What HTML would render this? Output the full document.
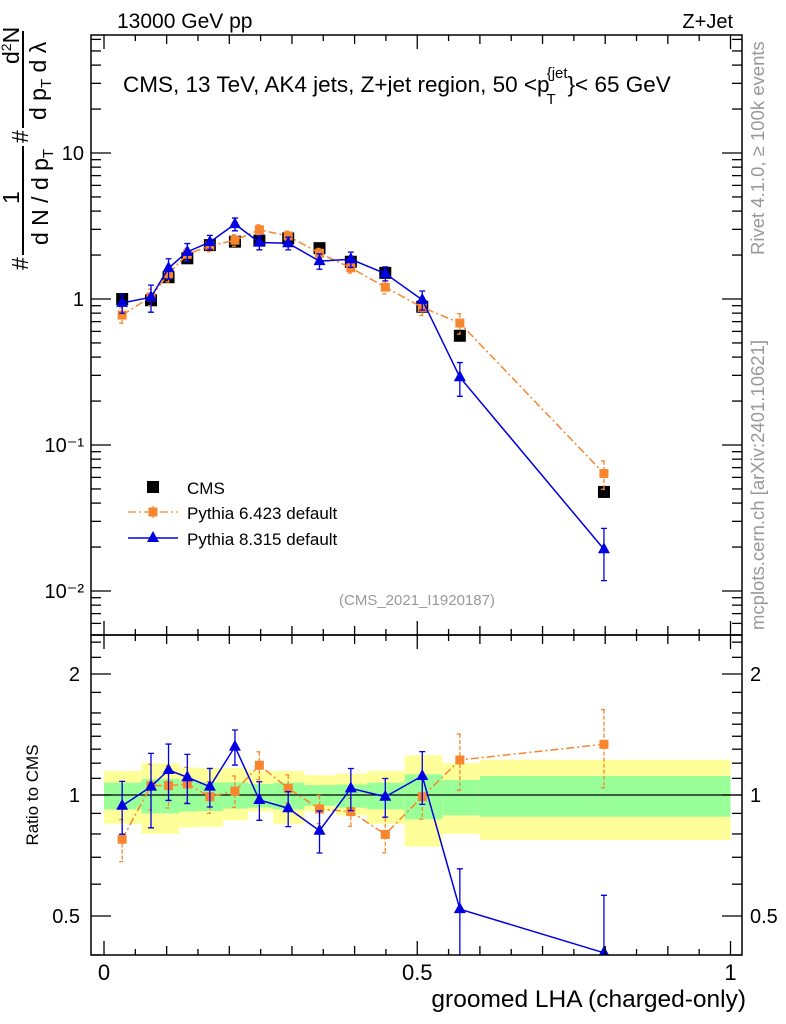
<!DOCTYPE html>
<html><head><meta charset="utf-8"><style>
body{margin:0;background:#fff}
svg{display:block;font-family:"Liberation Sans",sans-serif}
</style></head><body>
<svg id="chart" width="786" height="1024" viewBox="0 0 786 1024" xmlns="http://www.w3.org/2000/svg">
<defs>
<clipPath id="clipMain"><rect x="91" y="35" width="651" height="600"/></clipPath>
<clipPath id="clipRatio"><rect x="91" y="635" width="651" height="320"/></clipPath>
</defs>
<text x="117" y="28" font-size="21">13000 GeV pp</text>
<text x="733" y="28" font-size="20" text-anchor="end">Z+Jet</text>
<text x="123" y="92" font-size="22.5">CMS, 13 TeV, AK4 jets, Z+jet region, 50 &lt;p<tspan font-size="15" dx="-3" dy="12">T</tspan><tspan font-size="15" dx="-9" dy="-26">{jet</tspan><tspan font-size="22.5" dy="14">}&lt; 65 GeV</tspan></text>
<text x="417" y="605" font-size="15" fill="#999" text-anchor="middle">(CMS_2021_I1920187)</text>
<g transform="rotate(-90)" font-size="23">
<text x="-270" y="28">#</text>
<text x="-204" y="19">1</text>
<line x1="-255" y1="23" x2="-146" y2="23" stroke="#000" stroke-width="2"/>
<text x="-245" y="48">d N / d p<tspan font-size="15" dy="5">T</tspan></text>
<text x="-143" y="28">#</text>
<text x="-64" y="19">d<tspan font-size="14" dy="-8">2</tspan><tspan dy="8">N</tspan></text>
<line x1="-128" y1="23" x2="-31" y2="23" stroke="#000" stroke-width="2"/>
<text x="-120" y="46">d p<tspan font-size="15" dy="5">T</tspan><tspan dy="-5"> d λ</tspan></text>
</g>
<text transform="translate(764,255) rotate(-90)" font-size="18.5" fill="#999">Rivet 4.1.0, ≥ 100k events</text>
<text transform="translate(764,630) rotate(-90)" font-size="18.5" fill="#999">mcplots.cern.ch [arXiv:2401.10621]</text>
<text transform="translate(38,795) rotate(-90)" font-size="17" text-anchor="middle">Ratio to CMS</text>
<text x="746" y="1007" font-size="24.5" text-anchor="end">groomed LHA (charged-only)</text>
<g id="bands" clip-path="url(#clipRatio)"></g>
<g id="marks"></g>
<g id="axes"></g>
<g>
<rect x="147" y="481" width="12" height="12" fill="#000"/>
<text x="187" y="494" font-size="17">CMS</text>
<line x1="128" y1="512" x2="178" y2="512" stroke="#f7862f" stroke-width="1.3" stroke-dasharray="8,3,2,3"/>
<line x1="153" y1="506" x2="153" y2="518" stroke="#f7862f" stroke-width="1.3"/>
<rect x="148.5" y="507.5" width="9" height="9" fill="#f7862f"/>
<text x="187" y="519" font-size="17">Pythia 6.423 default</text>
<line x1="128" y1="538" x2="178" y2="538" stroke="#0000e0" stroke-width="1.5"/>
<path d="M153,531 L159,542 L147,542 Z" fill="#0000e0"/>
<text x="187" y="545" font-size="17">Pythia 8.315 default</text>
</g>
</svg>
<script>
const xPoints = [0.029,0.075,0.103,0.133,0.169,0.209,0.248,0.294,0.344,0.394,0.449,0.508,0.568,0.798];
const binEdges = [0,0.06,0.09,0.12,0.15,0.19,0.23,0.27,0.32,0.37,0.42,0.48,0.54,0.6,1.0];
const cmsValues = [1.0,0.98,1.41,1.90,2.34,2.47,2.51,2.60,2.23,1.80,1.51,0.885,0.56,0.0477];
const py6Ratio = [0.776,1.055,1.055,1.065,0.99,1.023,1.186,1.039,0.923,0.909,0.798,0.99,1.222,1.337];
const py6RelErr = [0.12,0.13,0.12,0.1,0.09,0.09,0.08,0.08,0.08,0.08,0.1,0.12,0.16,0.22];
const py8Ratio = [0.94,1.049,1.154,1.107,1.049,1.319,0.972,0.927,0.815,1.039,0.99,1.115,0.52,0.405];
const py8RelErr = [0.15,0.21,0.16,0.14,0.11,0.1,0.11,0.1,0.12,0.12,0.11,0.15,0.26,0.39];
const yellowHi = [1.147,1.199,1.199,1.17,1.167,1.167,1.147,1.147,1.12,1.13,1.147,1.255,1.2,1.224];
const yellowLo = [0.848,0.80,0.80,0.83,0.833,0.865,0.91,0.848,0.91,0.89,0.848,0.744,0.80,0.773];
const greenHi = [1.073,1.096,1.096,1.085,1.075,1.075,1.065,1.073,1.058,1.062,1.073,1.126,1.09,1.115];
const greenLo = [0.921,0.90,0.90,0.91,0.912,0.925,0.93,0.921,0.94,0.93,0.921,0.87,0.89,0.883];
const mainTickLabels = ["10⁻²","10⁻¹","1","10"];
const mainTickValues = [0.01,0.1,1,10];
const ratioTickValues = [0.5,1,2];
const ratioTickLabels = ["0.5","1","2"];
const xTickValues = [0,0.5,1];
const xTickLabels = ["0","0.5","1"];

const NS="http://www.w3.org/2000/svg";
const X=v=>104+626.5*v;
const YM=v=>299-146*Math.log10(v);
const YR=r=>795-402*Math.log10(r);
function mk(tag,attrs,parent){const e=document.createElementNS(NS,tag);for(const k in attrs)e.setAttribute(k,attrs[k]);parent.appendChild(e);return e;}
const bands=document.getElementById('bands'),marks=document.getElementById('marks'),axes=document.getElementById('axes');

for(let i=0;i<xPoints.length;i++){
  const x0=X(binEdges[i]),x1=X(binEdges[i+1]);
  const y=mk('rect',{x:x0,y:YR(yellowHi[i]),width:x1-x0,height:YR(yellowLo[i])-YR(yellowHi[i]),fill:'#ffff99'},bands);
  
  
  const g=mk('rect',{x:x0,y:YR(greenHi[i]),width:x1-x0,height:YR(greenLo[i])-YR(greenHi[i]),fill:'#99ff99'},bands);
  
  
}
const unity=mk('line',{x1:91,x2:742,y1:YR(1),y2:YR(1),stroke:'#000','stroke-width':1.3},marks);



function series(ratio,rel,color,dash,kind,name){
  [['main',document.createElementNS(NS,'g')],['ratio',document.createElementNS(NS,'g')]].forEach(([panel,g])=>{
    g.setAttribute('clip-path',panel==='main'?'url(#clipMain)':'url(#clipRatio)');
    marks.appendChild(g);
    const val=i=>panel==='main'?ratio[i]*cmsValues[i]:ratio[i];
    const Y=panel==='main'?YM:YR;
    const pts=xPoints.map((x,i)=>X(x)+','+Y(val(i))).join(' ');
    const pl=mk('polyline',{points:pts,fill:'none',stroke:color,'stroke-width':1.5,'stroke-dasharray':dash},g);
    
    
    xPoints.forEach((x,i)=>{
      const v=val(i),cx=X(x),hi=Y(v*(1+rel[i])),lo=Y(Math.max(v*(1-rel[i]),1e-4));
      const eb=mk('path',{d:`M${cx},${hi}V${lo}M${cx-3},${hi}H${cx+3}M${cx-3},${lo}H${cx+3}`,stroke:color,'stroke-width':1.3,fill:'none','stroke-dasharray':kind==='sq'?'4,2':''},g);
      
      
      const cy=Y(v);
      let m;
      if(kind==='sq') m=mk('rect',{x:cx-4.5,y:cy-4.5,width:9,height:9,fill:color},g);
      else m=mk('path',{d:`M${cx},${cy-7}L${cx+6},${cy+4}L${cx-6},${cy+4}Z`,fill:color},g);
      
      
    });
  });
}
xPoints.forEach((x,i)=>{
  const r=mk('rect',{x:X(x)-6,y:YM(cmsValues[i])-6,width:12,height:12,fill:'#000'},marks);
  
  
});
series(py6Ratio,py6RelErr,'#f7862f','8,3,2,3','sq','pythia6');
series(py8Ratio,py8RelErr,'#0000e0','','tri','pythia8');

[[35,635],[635,955]].forEach(([t,b],k)=>{
  const f=mk('rect',{x:91,y:t,width:651,height:b-t,fill:'none',stroke:'#000','stroke-width':1.5},axes);
  
  
  for(let j=0;j<=20;j++){
    const xv=X(j*0.05),len=(j%10===0)?14:(j%2===0?9:6);
    mk('line',{x1:xv,x2:xv,y1:b,y2:b-len,stroke:'#000','stroke-width':1.3},axes);
    mk('line',{x1:xv,x2:xv,y1:t,y2:t+len,stroke:'#000','stroke-width':1.3},axes);
  }
});
for(let d=-3;d<=1;d++){for(let m=1;m<=9;m++){
  const v=m*Math.pow(10,d),y=YM(v);if(y<35||y>635)continue;
  const len=m===1?20:10;
  mk('line',{x1:91,x2:91+len,y1:y,y2:y,stroke:'#000','stroke-width':1.3},axes);
  mk('line',{x1:742,x2:742-len,y1:y,y2:y,stroke:'#000','stroke-width':1.3},axes);
}}
mainTickValues.forEach((v,i)=>{
  const t=mk('text',{x:84,y:YM(v)+7,'font-size':20,'text-anchor':'end'},axes);
  t.textContent=mainTickLabels[i];
  
  
});
[0.4,0.5,0.6,0.7,0.8,0.9,1,1.1,1.2,1.3,1.4,1.5,1.6,1.8,2,2.2,2.4].forEach(r=>{
  const y=YR(r),len=ratioTickValues.includes(r)?20:10;
  mk('line',{x1:91,x2:91+len,y1:y,y2:y,stroke:'#000','stroke-width':1.3},axes);
  mk('line',{x1:742,x2:742-len,y1:y,y2:y,stroke:'#000','stroke-width':1.3},axes);
});
ratioTickValues.forEach((v,i)=>{
  const t=mk('text',{x:80,y:YR(v)+7,'font-size':20,'text-anchor':'end'},axes);
  t.textContent=ratioTickLabels[i];
  
  
  const t2=mk('text',{x:750,y:YR(v)+7,'font-size':20},axes);
  t2.textContent=ratioTickLabels[i];
  
  
});
xTickValues.forEach((v,i)=>{
  const t=mk('text',{x:X(v),y:980,'font-size':22,'text-anchor':'middle'},axes);
  t.textContent=xTickLabels[i];
  
  
});
</script>
</body></html>
